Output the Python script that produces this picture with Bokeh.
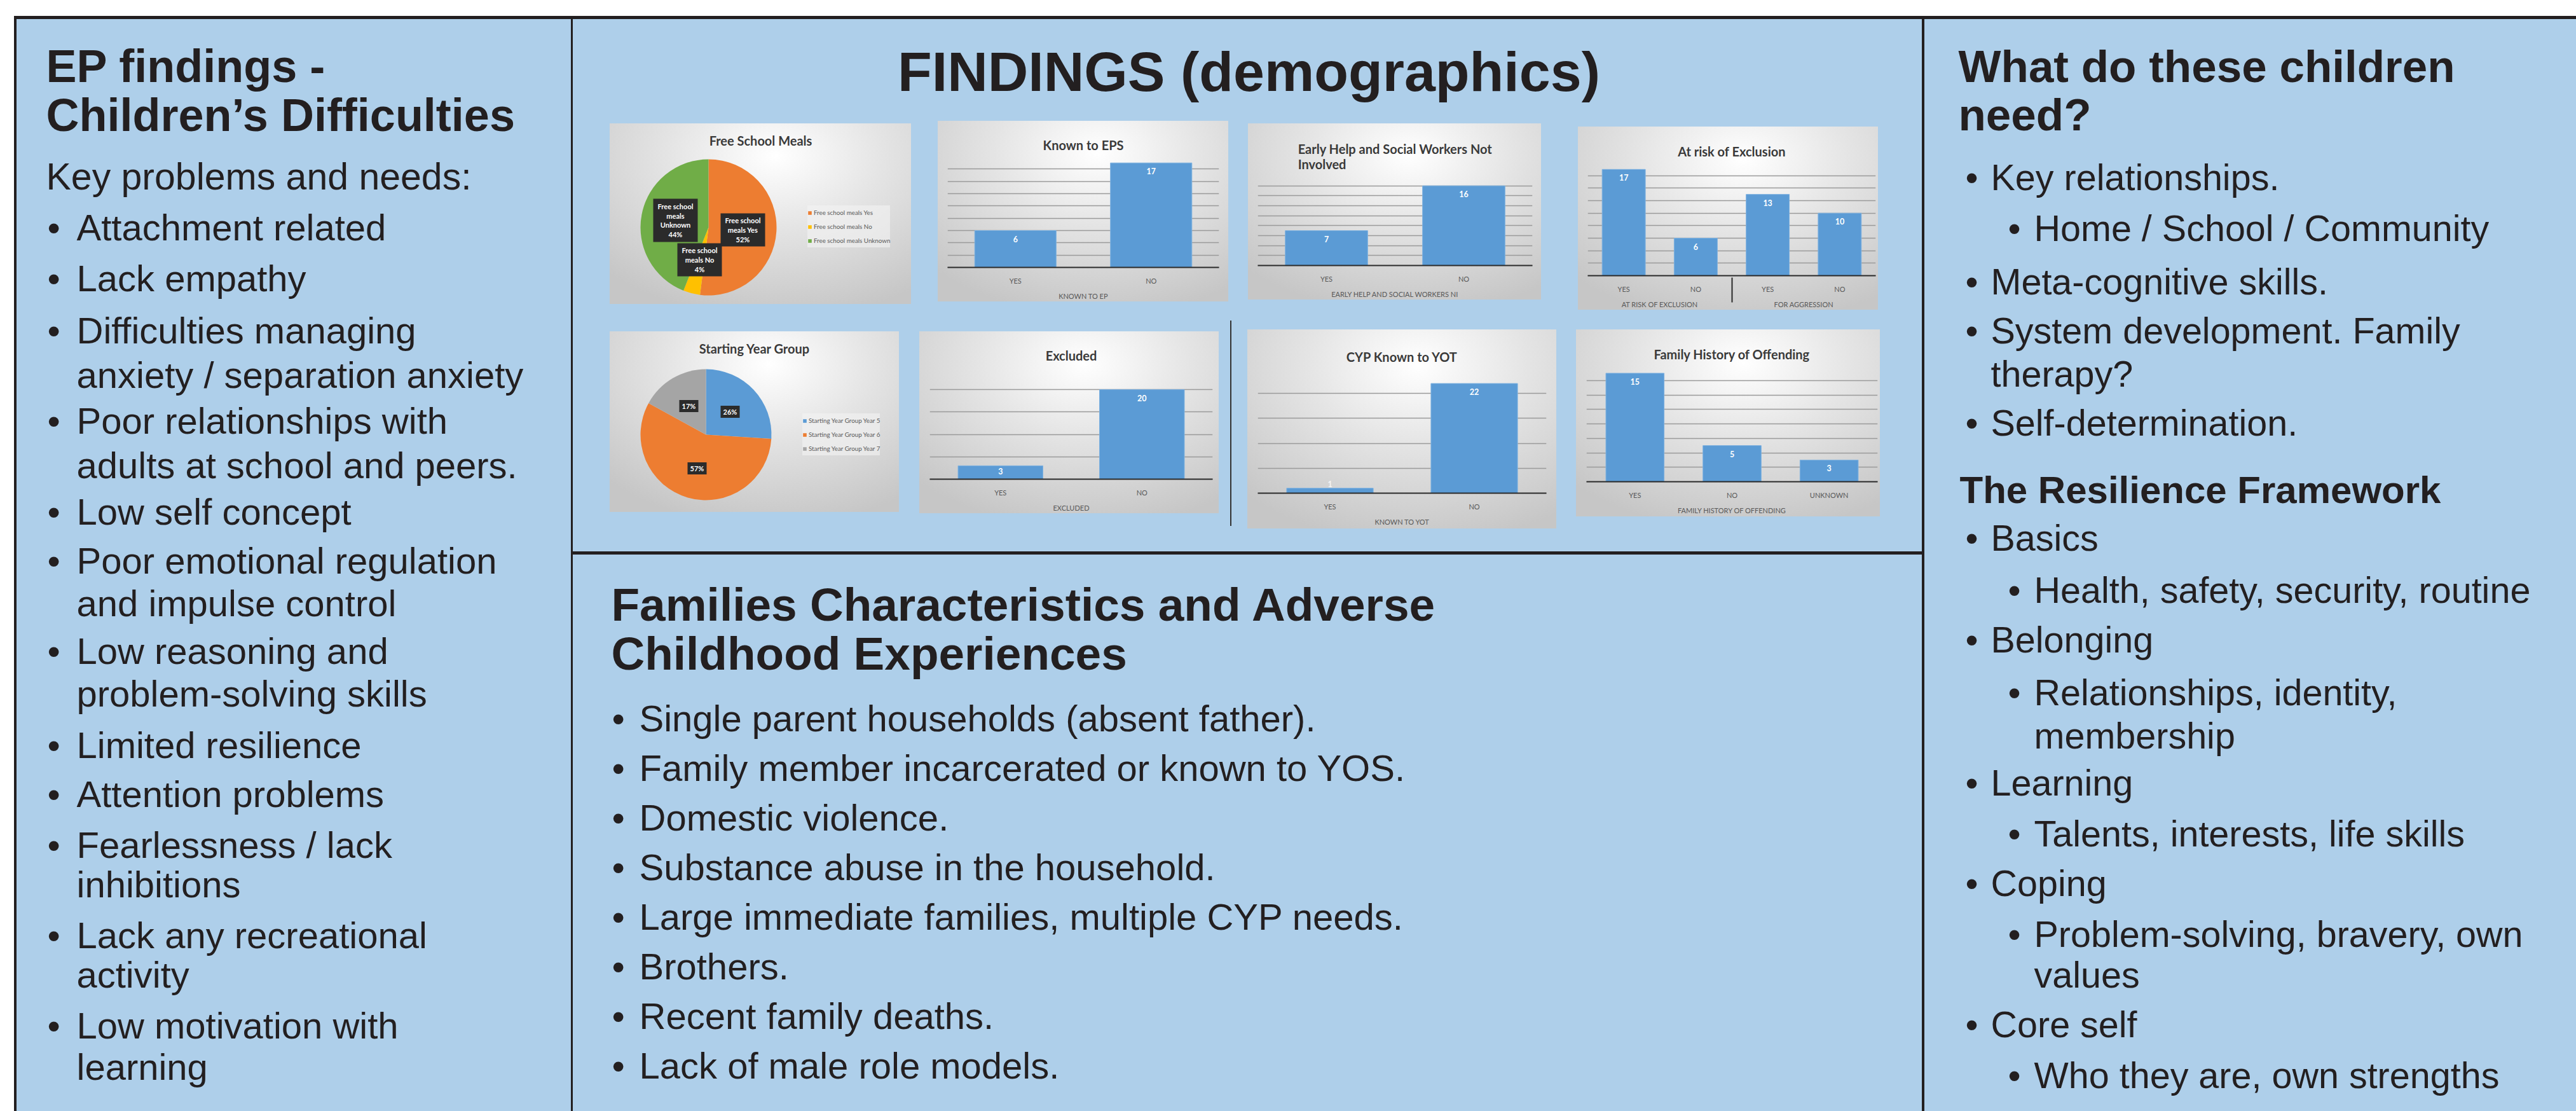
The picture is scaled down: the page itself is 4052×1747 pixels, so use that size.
import math
import textwrap
from bokeh.plotting import figure
from bokeh.layouts import row, column
from bokeh.models import (Range1d, FactorRange, FixedTicker, Spacer, Arrow,
                          Legend, LegendItem, ColumnDataSource)
from bokeh.core.properties import value
from bokeh.embed import file_html
from bokeh.resources import INLINE

# ---------------- data ----------------
FSM_NAMES = ["Free school meals Yes", "Free school meals No", "Free school meals Unknown"]
FSM_PCT = [52, 4, 44]
SYG_NAMES = ["Starting Year Group Year 5", "Starting Year Group Year 6", "Starting Year Group Year 7"]
SYG_PCT = [26, 57, 17]

EPS_GROUP = "KNOWN TO EP"
EPS_CATS = ["YES", "NO"]
EPS_VALS = [6, 17]

EH_GROUP = "EARLY HELP AND SOCIAL WORKERS NI"
EH_CATS = ["YES", "NO"]
EH_VALS = [7, 16]

RISK_GROUPS = ["AT RISK OF EXCLUSION", "FOR AGGRESSION"]
RISK_CATS = ["YES", "NO"]
RISK_VALS = [17, 6, 13, 10]

EXC_GROUP = "EXCLUDED"
EXC_CATS = ["YES", "NO"]
EXC_VALS = [3, 20]

YOT_GROUP = "KNOWN TO YOT"
YOT_CATS = ["YES", "NO"]
YOT_VALS = [1, 22]

FH_GROUP = "FAMILY HISTORY OF OFFENDING"
FH_CATS = ["YES", "NO", "UNKNOWN"]
FH_VALS = [15, 5, 3]

# value axes: (max, gridline interval)
EPS_AXIS = (18, 2)
EH_AXIS = (18, 2)
RISK_AXIS = (18, 2)
EXC_AXIS = (25, 5)
YOT_AXIS = (25, 5)
FH_AXIS = (16, 2)

LEFT_TITLE = ["EP findings -", "Children\u2019s Difficulties"]
LEFT_SUB = "Key problems and needs:"
LEFT_ITEMS = [
    ["Attachment related"], ["Lack empathy"],
    ["Difficulties managing", "anxiety / separation anxiety"],
    ["Poor relationships with", "adults at school and peers."],
    ["Low self concept"],
    ["Poor emotional regulation", "and impulse control"],
    ["Low reasoning and", "problem-solving skills"],
    ["Limited resilience"], ["Attention problems"],
    ["Fearlessness / lack", "inhibitions"],
    ["Lack any recreational", "activity"],
    ["Low motivation with", "learning"],
]
MID_TITLE = "FINDINGS (demographics)"
FAM_TITLE = ["Families Characteristics and Adverse", "Childhood Experiences"]
FAM_ITEMS = [
    "Single parent households (absent father).",
    "Family member incarcerated or known to YOS.",
    "Domestic violence.",
    "Substance abuse in the household.",
    "Large immediate families, multiple CYP needs.",
    "Brothers.",
    "Recent family deaths.",
    "Lack of male role models.",
]
RIGHT_TITLE = ["What do these children", "need?"]
RIGHT_A = [(1, ["Key relationships."]), (2, ["Home / School / Community"]),
           (1, ["Meta-cognitive skills."]), (1, ["System development. Family", "therapy?"]),
           (1, ["Self-determination."])]
RIGHT_HEAD = "The Resilience Framework"
RIGHT_B = [(1, ["Basics"]), (2, ["Health, safety, security, routine"]),
           (1, ["Belonging"]), (2, ["Relationships, identity,", "membership"]),
           (1, ["Learning"]), (2, ["Talents, interests, life skills"]),
           (1, ["Coping"]), (2, ["Problem-solving, bravery, own", "values"]),
           (1, ["Core self"]), (2, ["Who they are, own strengths"])]

# ---------------- style ----------------
BG = "#aecfea"
INK = "#231f20"
FONT = "Liberation Sans"
CFONT = "Lato"
BAR = "#5b9bd5"
CHART_BG = "radial-gradient(ellipse 80% 90% at 55% 18%, #ffffff 0%, #e4e4e4 45%, #c6c6c6 100%)"
BODY = 57.5
TFIX = 0.34   # baseline correction (em)

def base_fig(w, h, xr, yr, **kw):
    p = figure(width=w, height=h, x_range=xr, y_range=yr, output_backend="svg",
               toolbar_location=None, tools="", min_border=0, outline_line_color=None, **kw)
    return p

def text_panel(x0, x1, y0, y1):
    p = base_fig(x1 - x0, y1 - y0, Range1d(x0, x1), Range1d(y1, y0),
                 x_axis_location=None, y_axis_location=None,
                 background_fill_color=BG, border_fill_color=BG)
    p.grid.visible = False
    return p

def put(p, xs, ys, texts, size, bold=False, align="left", color=INK, font=FONT):
    p.text(x=xs, y=[y - TFIX * size for y in ys], text=texts, text_font=value(font),
           text_font_size=f"{size}px",
           text_font_style="bold" if bold else "normal", text_color=color,
           text_align=align, text_baseline="alphabetic")

def bullets(p, lines, level_x, baselines, size=BODY):
    bx, by, tx, ty, tt = [], [], [], [], []
    k = 0
    for level, parts in lines:
        bxx, txx = level_x[level]
        for j, s in enumerate(parts):
            if j == 0:
                bx.append(bxx); by.append(baselines[k])
            tx.append(txx); ty.append(baselines[k]); tt.append(s)
            k += 1
    put(p, bx, by, ["\u2022"] * len(bx), size)
    put(p, tx, ty, tt, size)

# ---------------- bar charts ----------------
def bar_chart(title, groups, cats, vals, axis, box, plot, bottom_line):
    x0, y0, x1, y1 = box
    px0, ptop, px1, pbase = plot
    ymax, step = axis
    factors = [(g, c) for g in groups for c in cats]
    fr = FactorRange(*factors, range_padding=0, group_padding=0, factor_padding=0)
    p = figure(width=x1 - x0, height=y1 - y0, x_range=fr, y_range=Range1d(0, ymax),
               output_backend="svg", toolbar_location=None, tools="",
               y_axis_location=None,
               min_border_left=px0 - x0, min_border_right=x1 - px1,
               min_border_top=ptop - y0, min_border_bottom=y1 - pbase,
               outline_line_color=None)
    p.background_fill_alpha = 0
    p.border_fill_alpha = 0
    p.styles = {"background": CHART_BG}
    p.xgrid.visible = False
    p.ygrid.ticker = FixedTicker(ticks=list(range(step, ymax + 1, step)))
    p.ygrid.grid_line_color = "#9a9a9a"
    p.ygrid.grid_line_width = 1.4
    src = ColumnDataSource(dict(x=factors, top=vals))
    p.vbar(x="x", top="top", width=0.6, source=src, fill_color=BAR, line_color="#7fb2e0",
           line_width=1)
    ppu = (pbase - ptop) / ymax
    bar_px = [v * ppu for v in vals]
    inside = [b > 15 for b in bar_px]
    for flag in (True, False):
        sel = [i for i in range(len(vals)) if inside[i] == flag]
        if not sel:
            continue
        offs = [min(13, bar_px[i] * 0.4) if flag else -7 for i in sel]
        p.text(x=[factors[i] for i in sel], y=[vals[i] for i in sel],
               text=[str(vals[i]) for i in sel], text_align="center", text_baseline="middle",
               y_offset=offs, text_color="white" if flag else "#f4f4f4",
               text_font=value(CFONT), text_font_style="bold", text_font_size="12.5px")
    ax = p.xaxis[0]
    ax.axis_line_color = "#2a2a2a"
    ax.axis_line_width = 2
    ax.major_tick_line_color = None
    ax.minor_tick_line_color = None
    ax.major_label_standoff = 8
    ax.major_label_text_font = CFONT
    ax.major_label_text_font_size = "11px"
    ax.major_label_text_color = "#595959"
    ax.group_text_font = CFONT
    ax.group_text_font_size = "11px"
    ax.group_text_font_style = "normal"
    ax.group_text_color = "#595959"
    ax.separator_line_color = "#2a2a2a"
    ax.separator_line_width = 2
    drop = (bottom_line - pbase) / ppu
    n = len(factors)
    for xe in (0, n):
        p.add_layout(Arrow(end=None, x_start=xe, y_start=0, x_end=xe, y_end=-drop,
                           line_color="#2a2a2a", line_width=2))
    p.title.text = title
    p.title.align = "center"
    p.title.text_font = CFONT
    p.title.text_font_size = "20px"
    p.title.text_font_style = "bold"
    p.title.text_color = "#3a3a3a"
    p.title.standoff = 14
    return p

# ---------------- pie charts ----------------
def pie_chart(title, names, pcts, colors, box, center, radius, title_y, legend_xy,
              label_xy, label_wh, label_texts):
    x0, y0, x1, y1 = box
    w, h = x1 - x0, y1 - y0
    p = base_fig(w, h, Range1d(0, w), Range1d(0, h), x_axis_location=None, y_axis_location=None)
    p.grid.visible = False
    p.background_fill_alpha = 0
    p.border_fill_alpha = 0
    p.styles = {"background": CHART_BG}
    cx, cy = center[0] - x0, y1 - center[1]
    starts, ends, cum = [], [], 0.0
    for v in pcts:
        starts.append(math.pi / 2 - 2 * math.pi * cum / 100)
        cum += v
        ends.append(math.pi / 2 - 2 * math.pi * cum / 100)
    src = ColumnDataSource(dict(s=starts, e=ends, c=colors, n=names))
    r = p.wedge(x=cx, y=cy, radius=radius, start_angle="s", end_angle="e", direction="clock",
                fill_color="c", line_color=None, source=src)
    legend = Legend(items=[LegendItem(label=nm, renderers=[r], index=i) for i, nm in enumerate(names)],
                    location=legend_xy, glyph_width=7, glyph_height=7, label_height=22,
                    label_standoff=3, spacing=0, padding=4, margin=0,
                    label_text_font=CFONT, label_text_font_size="9.8px",
                    label_text_color="#595959", background_fill_color="#f4f4f4",
                    background_fill_alpha=0.6, border_line_color=None)
    p.add_layout(legend)
    lx = [cx + dx for dx, dy in label_xy]
    ly = [cy - dy for dx, dy in label_xy]
    p.rect(x=lx, y=ly, width=[a for a, b in label_wh], height=[b for a, b in label_wh],
           fill_color="#2b2b2b", line_color=None)
    p.text(x=lx, y=ly, text=label_texts, text_align="center", text_baseline="middle",
           text_color="white", text_font=value(CFONT), text_font_style="bold",
           text_font_size="11px", text_line_height=1.15)
    p.text(x=[w / 2], y=[h - (title_y - y0)], text=[title], text_align="center",
           text_baseline="middle", text_color="#3a3a3a", text_font=value(CFONT),
           text_font_style="bold", text_font_size="20px")
    return p

fsm_labels = ["\n".join(textwrap.wrap(n, 11)) + f"\n{v}%" for n, v in zip(FSM_NAMES, FSM_PCT)]
syg_labels = [f"{v}%" for v in SYG_PCT]

fsm = pie_chart("Free School Meals", FSM_NAMES, FSM_PCT, ["#ed7d31", "#ffc000", "#70ad47"],
                (959, 194, 1433, 478), (1114, 357), 107, 220, (311, 89),
                [(54, 4), (-14, 51), (-52, -11)], [(70, 52), (70, 52), (70, 68)], fsm_labels)
syg = pie_chart("Starting Year Group", SYG_NAMES, SYG_PCT, ["#5b9bd5", "#ed7d31", "#a5a5a5"],
                (959, 521, 1414, 805), (1110, 683), 103, 547, (303, 89),
                [(38, -36), (-14, 53), (-27, -45)], [(30, 19), (30, 19), (30, 19)], syg_labels)

eps = bar_chart("Known to EPS", [EPS_GROUP], EPS_CATS, EPS_VALS, EPS_AXIS,
                (1475, 190, 1932, 474), (1490, 246, 1917, 422), 468)
eh = bar_chart("Early Help and Social Workers Not\nInvolved", [EH_GROUP], EH_CATS, EH_VALS, EH_AXIS,
               (1963, 194, 2424, 471), (1978, 276, 2410, 419), 463)
risk = bar_chart("At risk of Exclusion", RISK_GROUPS, RISK_CATS, RISK_VALS, RISK_AXIS,
                 (2482, 199, 2954, 487), (2497, 256, 2950, 435), 487)
exc = bar_chart("Excluded", [EXC_GROUP], EXC_CATS, EXC_VALS, EXC_AXIS,
                (1446, 521, 1917, 807), (1462, 577, 1907, 754), 800)
yot = bar_chart("CYP Known to YOT", [YOT_GROUP], YOT_CATS, YOT_VALS, YOT_AXIS,
                (1962, 518, 2448, 831), (1978, 579, 2432, 775), 826)
fh = bar_chart("Family History of Offending", [FH_GROUP], FH_CATS, FH_VALS, FH_AXIS,
               (2479, 518, 2957, 812), (2495, 575, 2953, 757), 804)

# ---------------- text panels (page = reference pixel coordinates) ----------------
W, H = 4052, 1747
left = text_panel(26, 898, 30, H)
put(left, [72, 72], [128, 205], LEFT_TITLE, 72, bold=True)
put(left, [72], [298], [LEFT_SUB], 59)
LEFT_BASE = [377, 457, 539, 609, 681, 751, 824, 901, 968, 1043, 1110, 1191, 1268,
             1348, 1410, 1490, 1552, 1632, 1697]
bullets(left, [(1, it) for it in LEFT_ITEMS], {1: (74, 120)}, LEFT_BASE, 58)

mtitle = text_panel(901, 3023, 30, 190)
put(mtitle, [1964], [142], [MID_TITLE], 88, bold=True, align="center")

mbottom = text_panel(901, 3023, 872, H)
put(mbottom, [961, 961], [975, 1052], FAM_TITLE, 73, bold=True)
FAM_BASE = [1149 + 78 * i for i in range(len(FAM_ITEMS))]
bullets(mbottom, [(1, [t]) for t in FAM_ITEMS], {1: (962, 1005)}, FAM_BASE, 58)

right = text_panel(3027, W, 30, H)
put(right, [3080, 3080], [128, 204], RIGHT_TITLE, 71, bold=True)
RA_BASE = [298, 378, 462, 539, 607, 684]
bullets(right, RIGHT_A, {1: (3091, 3131), 2: (3158, 3199)}, RA_BASE)
put(right, [3082], [790], [RIGHT_HEAD], 60, bold=True)
RB_BASE = [865, 947, 1025, 1108, 1176, 1250, 1330, 1408, 1488, 1552, 1630, 1710]
bullets(right, RIGHT_B, {1: (3091, 3131), 2: (3158, 3199)}, RB_BASE)

# ---------------- layout ----------------
DARK = {"background-color": INK}

def hrow(x0, width, top, height, items):
    kids, cur = [], x0
    for (x, y, w, h, el) in items:
        if x > cur:
            kids.append(Spacer(width=x - cur, height=0))
        kids.append(column(Spacer(width=w, height=y - top), el) if y > top else el)
        cur = x + w
    kids.append(Spacer(width=x0 + width - cur, height=height))
    return row(*kids)

row1 = hrow(901, 2122, 190, 314, [
    (959, 194, 474, 284, fsm), (1475, 190, 457, 284, eps),
    (1963, 194, 461, 277, eh), (2482, 199, 472, 288, risk)])
divider = Spacer(width=2, height=323, styles={"background-color": "#333333"})
row2 = hrow(901, 2122, 504, 363, [
    (959, 521, 455, 284, syg), (1446, 521, 471, 286, exc), (1935, 504, 2, 323, divider),
    (1962, 518, 486, 313, yot), (2479, 518, 478, 294, fh)])

mid = column(mtitle, row1, row2, Spacer(width=2122, height=5, styles=DARK), mbottom)

main = column(
    Spacer(width=W - 22, height=5, styles=DARK),
    row(Spacer(width=4, height=H - 30, styles=DARK), left,
        Spacer(width=3, height=H - 30, styles=DARK), mid,
        Spacer(width=4, height=H - 30, styles=DARK), right),
    styles={"background-color": BG})

root = column(Spacer(width=W, height=25), row(Spacer(width=22, height=H - 25), main))

open("out.html", "w").write(file_html(root, INLINE))
